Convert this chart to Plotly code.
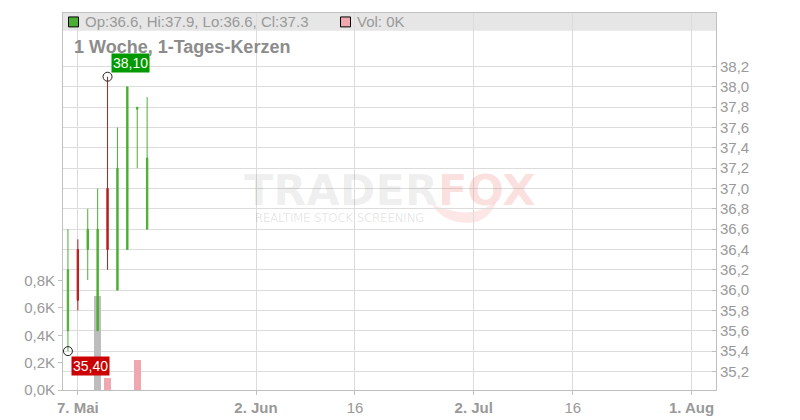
import plotly.graph_objects as go
import pandas as pd

# ---------------- data ----------------
dates = ["2025-05-06", "2025-05-07", "2025-05-08", "2025-05-09", "2025-05-12",
         "2025-05-13", "2025-05-14", "2025-05-15", "2025-05-16"]
opens = [35.6, 36.4, 36.4, 35.6, 37.0, 36.0, 36.4, 37.78, 36.6]
highs = [36.6, 36.5, 36.8, 37.0, 38.1, 37.6, 38.0, 37.8, 37.9]
lows = [35.4, 35.8, 36.1, 35.6, 36.2, 36.0, 36.4, 37.2, 36.6]
closes = [36.2, 35.9, 36.6, 36.6, 36.4, 37.2, 38.0, 37.8, 37.3]
volumes = [0, 0, 0, 690, 87, 0, 0, 218, 0]

price_ticks = [35.2, 35.4, 35.6, 35.8, 36.0, 36.2, 36.4, 36.6, 36.8,
               37.0, 37.2, 37.4, 37.6, 37.8, 38.0, 38.2]
volume_ticks = [0, 200, 400, 600, 800]
date_ticks = ["2025-05-07", "2025-06-02", "2025-06-16", "2025-07-02", "2025-07-16", "2025-08-01"]
date_tick_labels = ["<b>7. Mai</b>", "<b>2. Jun</b>", "16", "<b>2. Jul</b>", "16", "<b>1. Aug</b>"]
title_text = "1 Woche, 1-Tages-Kerzen"

# ---------------- styles ----------------
GREEN = "#4cae32"
RED = "#b41e1e"
GRID = "#dcdcdc"
FRAME = "#c0c0c0"
LABEL = "#999999"
FONT = "Liberation Sans, Arial, sans-serif"
vol_colors = ["#f0a8b0", "#f0a8b0", "#f0a8b0", "#bdbdbd", "#f0a8b0",
              "#f0a8b0", "#f0a8b0", "#f0a8b0", "#f0a8b0"]

half = pd.Timedelta(hours=12)
xpos = pd.to_datetime(dates) + half
tick_pos = pd.to_datetime(date_ticks) + half

# page has an 8px body margin; figure is sized so the plot lands at these window pixels
OFF = 8
L, R, T, B = 63, 716, 12, 392
def px(X):
    return (X - L) / (R - L)
def py(Y):
    return (B - Y) / (B - T)

fig = go.Figure()

fig.add_trace(go.Bar(
    x=xpos, y=volumes, yaxis="y", marker=dict(color=vol_colors, line=dict(width=0)),
    width=0.68 * 86400000, hoverinfo="skip", showlegend=False))

fig.add_trace(go.Candlestick(
    x=xpos, open=opens, high=highs, low=lows, close=closes, yaxis="y2",
    increasing=dict(line=dict(color=GREEN, width=1), fillcolor=GREEN),
    decreasing=dict(line=dict(color=RED, width=1), fillcolor=RED),
    whiskerwidth=0, hoverinfo="skip", showlegend=False))

i_hi = highs.index(max(highs))
i_lo = lows.index(min(lows))
fig.add_trace(go.Scatter(
    x=[xpos[i_hi], xpos[i_lo]], y=[highs[i_hi], lows[i_lo]], yaxis="y2",
    mode="markers", marker=dict(symbol="circle-open", size=9, color="#222222",
                                line=dict(width=1, color="#222222")),
    hoverinfo="skip", showlegend=False))

def fmt(v, d=1):
    return f"{v:.{d}f}".replace(".", ",")

annotations = [
    dict(x=xpos[i_hi], y=highs[i_hi], xref="x", yref="y2", text=fmt(highs[i_hi], 2),
         showarrow=False, xanchor="left", yanchor="bottom", xshift=3, yshift=4,
         bgcolor="#009900", borderpad=1, font=dict(color="white", size=14, family=FONT)),
    dict(x=xpos[i_lo], y=lows[i_lo], xref="x", yref="y2", text=fmt(lows[i_lo], 2),
         showarrow=False, xanchor="left", yanchor="top", xshift=3, yshift=-5,
         bgcolor="#cc0000", borderpad=1, font=dict(color="white", size=14, family=FONT)),
    # title
    dict(x=px(72), y=py(46), xref="paper", yref="paper", text=f"<b>{title_text}</b>",
         showarrow=False, xanchor="left", yanchor="middle",
         font=dict(size=18, color="#8c8c8c", family=FONT)),
    # legend texts
    dict(x=px(83), y=py(21), xref="paper", yref="paper",
         text=f"Op:{opens[-1]}, Hi:{highs[-1]}, Lo:{lows[-1]}, Cl:{closes[-1]}",
         showarrow=False, xanchor="left", yanchor="middle",
         font=dict(size=15, color=LABEL, family=FONT)),
    dict(x=px(355), y=py(21), xref="paper", yref="paper",
         text=f"Vol: {volumes[-1] / 1000:.0f}K",
         showarrow=False, xanchor="left", yanchor="middle",
         font=dict(size=15, color=LABEL, family=FONT)),
    # watermark
    dict(x=px(389), y=py(190), xref="paper", yref="paper",
         text="<b><span style='color:rgba(0,0,0,0.075)'>TRADER</span>"
              "<span style='color:rgba(235,60,60,0.17)'>FOX</span></b>",
         showarrow=False, xanchor="center", yanchor="middle",
         font=dict(size=43, family="DejaVu Sans")),
    dict(x=px(339), y=py(219), xref="paper", yref="paper",
         text="REALTIME STOCK SCREENING",
         showarrow=False, xanchor="center", yanchor="middle",
         font=dict(size=11.5, family="DejaVu Sans", color="rgba(0,0,0,0.11)")),
]

# faint fox-tail swoosh of the watermark
tail_pts = [(432, 205), (445, 226), (475, 223), (490, 219), (497, 201), (482, 214), (462, 213), (446, 211)]
tail_path = (f"M {px(tail_pts[0][0])},{py(tail_pts[0][1])} "
             f"Q {px(tail_pts[1][0])},{py(tail_pts[1][1])} {px(tail_pts[2][0])},{py(tail_pts[2][1])} "
             f"Q {px(tail_pts[3][0])},{py(tail_pts[3][1])} {px(tail_pts[4][0])},{py(tail_pts[4][1])} "
             f"Q {px(tail_pts[5][0])},{py(tail_pts[5][1])} {px(tail_pts[6][0])},{py(tail_pts[6][1])} "
             f"Q {px(tail_pts[7][0])},{py(tail_pts[7][1])} {px(tail_pts[0][0])},{py(tail_pts[0][1])} Z")

shapes = [
    dict(type="rect", xref="paper", yref="paper", x0=0, x1=1, y0=py(30), y1=py(12),
         fillcolor="#e6e6e6", line=dict(width=0), layer="below"),
    dict(type="rect", xref="paper", yref="paper", x0=px(68.5), x1=px(78.5), y0=py(26), y1=py(16),
         fillcolor=GREEN, line=dict(color="black", width=1)),
    dict(type="rect", xref="paper", yref="paper", x0=px(340.5), x1=px(350.5), y0=py(26), y1=py(16),
         fillcolor="#f0a8b0", line=dict(color="black", width=1)),
    dict(type="path", xref="paper", yref="paper", path=tail_path,
         fillcolor="rgba(235,60,60,0.13)", line=dict(width=0), layer="below"),
]

fig.update_layout(
    width=800 - OFF, height=420 - OFF,
    margin=dict(l=L - OFF, r=800 - R, t=T - OFF, b=420 - B, pad=0),
    paper_bgcolor="white", plot_bgcolor="rgba(0,0,0,0)",
    showlegend=False, boxgap=0.8, bargap=0,
    font=dict(family=FONT, color=LABEL, size=15),
    annotations=annotations, shapes=shapes,
    xaxis=dict(
        type="date",
        range=[pd.Timestamp("2025-05-06 00:00"), pd.Timestamp("2025-08-05 23:20")],
        rangebreaks=[dict(bounds=["sat", "mon"])],
        rangeslider=dict(visible=False),
        tickmode="array", tickvals=tick_pos, ticktext=date_tick_labels,
        showgrid=True, gridcolor=GRID, gridwidth=1,
        ticks="outside", ticklen=4, tickcolor=FRAME,
        showline=True, linecolor=FRAME, linewidth=1, mirror=True,
        tickfont=dict(size=15, color=LABEL), zeroline=False,
    ),
    yaxis=dict(
        range=[0, 2756], side="left",
        tickmode="array", tickvals=volume_ticks,
        ticktext=[fmt(v / 1000) + "K" for v in volume_ticks],
        showgrid=False, zeroline=False,
        ticks="outside", ticklen=4, tickcolor=FRAME,
        showline=True, linecolor=FRAME, linewidth=1,
        tickfont=dict(size=15, color=LABEL),
    ),
    yaxis2=dict(
        overlaying="y", side="right",
        range=[35.0174, 38.727],
        tickmode="array", tickvals=price_ticks,
        ticktext=[fmt(v) for v in price_ticks],
        showgrid=True, gridcolor=GRID, gridwidth=1, zeroline=False,
        ticks="inside", ticklen=4, tickcolor=FRAME,
        showline=True, linecolor=FRAME, linewidth=1,
        tickfont=dict(size=15, color=LABEL),
    ),
)

fig.write_html("out.html")
